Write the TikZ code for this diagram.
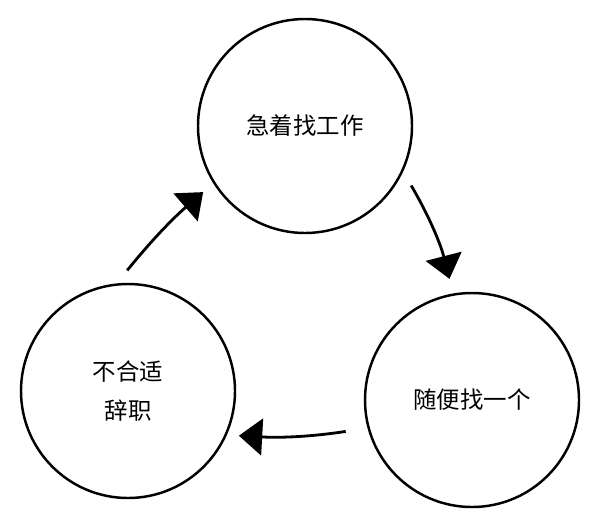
\documentclass[tikz,border=0pt]{standalone}
\usepackage{fontspec}
\setmainfont{Noto Sans CJK SC}
\usetikzlibrary{arrows.meta}
\tikzset{
  phase/.style={draw, circle, line width=2.1pt, minimum size=6.42cm, inner sep=0pt,
    align=center, font=\fontsize{20pt}{34pt}\selectfont},
  cyclearrow/.style={line width=2.4pt, -{Triangle[length=0.7cm,width=1.1cm]}},
}

\begin{document}
\begin{tikzpicture}[x=0.03cm, y=-0.03cm]
\useasboundingbox (0,0) rectangle (599,525);

\node[phase] (rush) at (305,126) {急着找工作};
\node[phase] (any) at (472,400) {随便找一个};
\node[phase] (quit) at (128,391) {不合适\\辞职};

\draw[cyclearrow, shorten <=0.5cm, shorten >=0.4cm] (quit.96) to[bend left=5] (rush.212);
\draw[cyclearrow, shorten <=0.48cm, shorten >=0.45cm] (rush.-25) to[bend left=8] (any.100);
\draw[cyclearrow, shorten <=0.66cm, shorten >=0.36cm] (any.-165) to[bend left=6] (quit.-24);
\end{tikzpicture}
\end{document}
